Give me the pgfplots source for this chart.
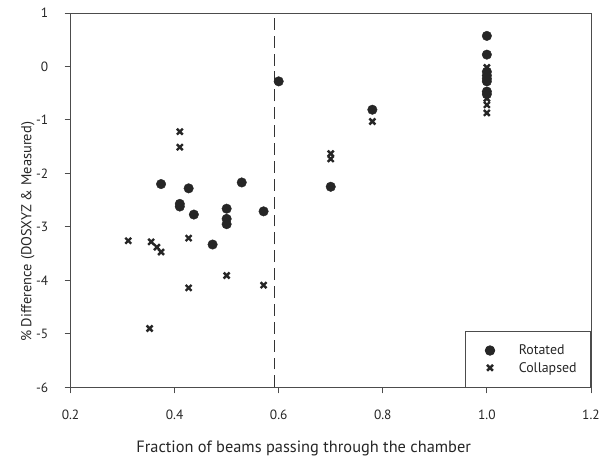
\documentclass[border=0pt]{standalone}
\usepackage{pgfplots}
\pgfplotsset{compat=1.18}
\usepackage{fontspec}
\setmainfont{PT Sans}

\pgfplotsset{
  offset legend mark/.style={
    legend image code/.code={
      \path[draw=none, fill=none] (-13pt,-4pt) rectangle (20pt,4pt);
      \draw[mark repeat=2, mark phase=2] plot coordinates {(-6pt,0pt) (0pt,0pt) (6pt,0pt)};
    }
  }
}

\begin{document}
\begin{tikzpicture}
\begin{axis}[
  name=ax,
  scale only axis,
  width=524pt, height=377pt,
  xmin=0.2, xmax=1.2, ymin=-6, ymax=1,
  xtick={0.2,0.4,0.6,0.8,1.0,1.2},
  xticklabels={0.2,0.4,0.6,0.8,1.0,1.2},
  ytick={-6,-5,-4,-3,-2,-1,0,1},
  yticklabels={-6,-5,-4,-3,-2,-1,0,1},
  tick align=outside,
  xtick pos=bottom, ytick pos=left,
  major tick length=6pt,
  axis line style={black!70, line width=0.8pt},
  tick style={black!70, line width=0.8pt},
  ticklabel style={font=\fontsize{13.5}{15}\selectfont, text=black!85},
  xticklabel style={yshift=-13pt},
  yticklabel style={xshift=-13pt},
  xlabel={Fraction of beams passing through the chamber},
  ylabel={\% Difference (DOSXYZ \& Measured)},
  xlabel style={font=\fontsize{16.5}{19}\selectfont, text=black!85,
    at={(axis description cs:0.448,-0.162)}, anchor=center},
  ylabel style={font=\fontsize{14.5}{16}\selectfont, text=black!85,
    at={(axis description cs:-0.082,0.415)}, anchor=center, rotate=0},
  legend style={at={(1,0)}, anchor=south east, draw=black!70, line width=0.8pt,
    font=\fontsize{14}{16}\selectfont, inner xsep=12pt, inner ysep=11.5pt,
    row sep=2pt, column sep=7pt, cells={anchor=west}, text=black!85},
  legend cell align=left,
]
% rotated set-ups
\addplot[only marks, mark=*, mark size=4.8pt, black!85, offset legend mark] coordinates {
  (1.0,0.57) (1.0,0.22) (1.0,-0.10) (1.0,-0.17) (1.0,-0.23) (1.0,-0.28)
  (1.0,-0.47) (1.0,-0.52)
  (0.60,-0.28) (0.78,-0.81) (0.70,-2.25)
  (0.374,-2.20) (0.427,-2.28) (0.529,-2.17)
  (0.41,-2.57) (0.41,-2.62) (0.437,-2.77)
  (0.50,-2.66) (0.50,-2.85) (0.50,-2.95)
  (0.571,-2.71) (0.473,-3.33)
};
\addlegendentry{Rotated}
% collapsed set-ups
\addplot[only marks, mark=x, mark size=4.2pt, black!85, mark options={line width=2.4pt}, offset legend mark] coordinates {
  (1.0,-0.02) (1.0,-0.60) (1.0,-0.72) (1.0,-0.87)
  (0.78,-1.03) (0.70,-1.63) (0.70,-1.73)
  (0.41,-1.22) (0.41,-1.51)
  (0.311,-3.26) (0.355,-3.28) (0.366,-3.38) (0.374,-3.47)
  (0.427,-3.21) (0.50,-3.91) (0.427,-4.14) (0.571,-4.09)
  (0.352,-4.90)
};
\addlegendentry{Collapsed}
% threshold line
\addplot[black!80, line width=0.8pt, dash pattern=on 12pt off 6pt, forget plot]
  coordinates {(0.591,-6) (0.591,1)};
\end{axis}
% page margins around the axis
\path ([xshift=-71pt,yshift=13pt]ax.north west) rectangle ([xshift=8pt,yshift=-67pt]ax.south east);
\end{tikzpicture}
\end{document}
